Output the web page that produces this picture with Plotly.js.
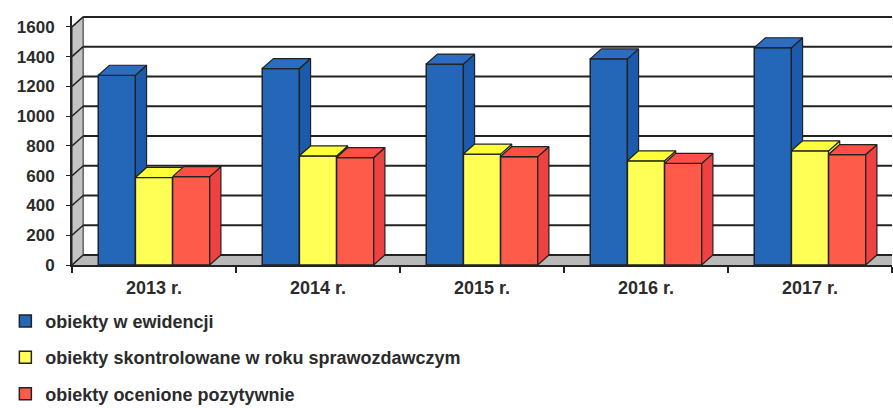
<!DOCTYPE html>
<html>
<head>
<meta charset="utf-8">
<script src="https://cdn.plot.ly/plotly-3.0.1.min.js"></script>
<style>html,body{margin:0;padding:0;background:#fff;}#chart{width:893px;height:408px;}</style>
</head>
<body>
<div id="chart"></div>
<script>
// ---- data ----
const categories = ['2013 r.', '2014 r.', '2015 r.', '2016 r.', '2017 r.'];
const seriesNames = ['obiekty w ewidencji', 'obiekty skontrolowane w roku sprawozdawczym', 'obiekty ocenione pozytywnie'];
const ewidencja = [1275, 1320, 1350, 1385, 1460];
const skontrolowane = [588, 733, 745, 700, 767];
const pozytywnie = [594, 722, 728, 683, 742];
const yTickValues = [0, 200, 400, 600, 800, 1000, 1200, 1400, 1600];

// ---- styling ----
const frontColors = ['#2467b9', '#ffff55', '#ff5b4b'];
const topColors = ['#2a6dc2', '#ffff3a', '#ff4f45'];
const sideColors = ['#1c5aab', '#e6e63a', '#ee4242'];
const edge = '#222';
const depthX = 0.068;   // 3D depth in category units
const depthY = 67;      // 3D depth in value units
const bargap = 0.32;
const series = [ewidencja, skontrolowane, pozytywnie];
const idx = categories.map((c, i) => i);
const barW = (1 - bargap) / series.length;
const fontFam = '"Liberation Sans", Arial, sans-serif';

const traces = [];
series.forEach((vals, s) => {
  traces.push({
    type: 'bar', name: seriesNames[s], x: idx, y: vals,
    marker: {color: frontColors[s], line: {color: edge, width: 1.5}},
    legendgroup: 'g' + s, hoverinfo: 'skip'
  });
});

// 3D side and top faces derived from the data
series.forEach((vals, s) => {
  const sx = [], sy = [], tx = [], ty = [];
  vals.forEach((v, i) => {
    const L = i - (1 - bargap) / 2 + s * barW;
    const R = L + barW;
    tx.push(L, R, R + depthX, L + depthX, L, null);
    ty.push(v, v, v + depthY, v + depthY, v, null);
    let lo = 0;
    if (s < series.length - 1) lo = Math.min(v, series[s + 1][i]);
    if (lo < v) {
      sx.push(R, R, R + depthX, R + depthX, R, null);
      sy.push(lo, v, v + depthY, lo + depthY, lo, null);
    }
  });
  traces.push({type: 'scatter', mode: 'lines', x: sx, y: sy, fill: 'toself', fillcolor: sideColors[s],
    line: {color: edge, width: 1.2}, showlegend: false, hoverinfo: 'skip'});
  traces.push({type: 'scatter', mode: 'lines', x: tx, y: ty, fill: 'toself', fillcolor: topColors[s],
    line: {color: edge, width: 1.2}, showlegend: false, hoverinfo: 'skip'});
});

// walls, floor and back-wall grid
const x0 = -0.5, x1 = categories.length - 0.5;
const yMax = yTickValues[yTickValues.length - 1];
const shapes = [];
shapes.push({type: 'path', layer: 'below', xref: 'x', yref: 'y',
  path: `M${x0},0 L${x1 + 1},0 L${x1 + 1},${depthY} L${x0 + depthX},${depthY} Z`,
  fillcolor: '#b9b9b9', line: {width: 0}});
shapes.push({type: 'path', layer: 'below', xref: 'x', yref: 'y',
  path: `M${x0},0 L${x0},${yMax} L${x0 + depthX},${yMax + depthY} L${x0 + depthX},${depthY} Z`,
  fillcolor: '#c4c4c4', line: {color: edge, width: 1}});
yTickValues.forEach(v => {
  shapes.push({type: 'line', layer: 'below', xref: 'x', yref: 'y',
    x0: x0 + depthX, x1: x1 + 1, y0: v + depthY, y1: v + depthY, line: {color: edge, width: 2}});
  shapes.push({type: 'line', layer: 'below', xref: 'x', yref: 'y',
    x0: x0, x1: x0 + depthX, y0: v, y1: v + depthY, line: {color: edge, width: 1.5}});
});

const layout = {
  width: 893, height: 408,
  margin: {l: 72, r: 1, t: 16, b: 143, autoexpand: false},
  paper_bgcolor: '#fff', plot_bgcolor: '#fff',
  barmode: 'group', bargap: bargap, bargroupgap: 0,
  showlegend: true,
  font: {family: fontFam, color: '#2b2b2b'},
  xaxis: {
    range: [x0, x1], tickmode: 'array', tickvals: idx, ticktext: categories,
    ticks: '', showgrid: false, zeroline: false, showline: true, linecolor: edge, linewidth: 2,
    tickfont: {family: fontFam, size: 18, color: '#2b2b2b', weight: 'bold'},
    ticklabelstandoff: 5,
    minor: {ticks: 'outside', tickmode: 'linear', tick0: -0.5, dtick: 1, ticklen: 6, tickcolor: edge, tickwidth: 1.5, showgrid: false},
    fixedrange: true
  },
  yaxis: {
    range: [0, 1673], tickmode: 'array', tickvals: yTickValues,
    ticks: 'outside', ticklen: 4, tickcolor: edge, showgrid: false, zeroline: false,
    showline: true, linecolor: edge, linewidth: 2, ticklabelstandoff: 8,
    tickfont: {family: fontFam, size: 17, color: '#2b2b2b', weight: 'bold'},
    fixedrange: true
  },
  legend: {
    xref: 'container', yref: 'container',
    x: 0.006, y: 0.258, xanchor: 'left', yanchor: 'top', orientation: 'v',
    traceorder: 'grouped', tracegroupgap: 10, bgcolor: 'rgba(0,0,0,0)',
    font: {family: fontFam, size: 18, color: '#2b2b2b', weight: 'bold'}
  },
  shapes: shapes
};

Plotly.newPlot('chart', traces, layout, {staticPlot: true, displayModeBar: false});
</script>
</body>
</html>
